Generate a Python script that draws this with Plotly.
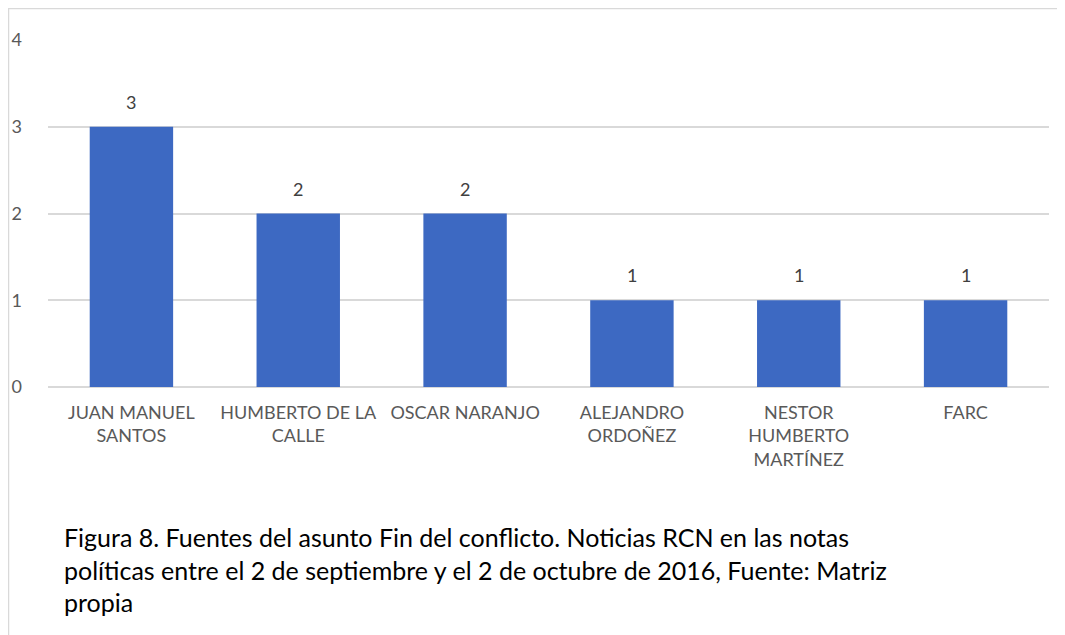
import plotly.graph_objects as go

categories = ["JUAN MANUEL<br>SANTOS", "HUMBERTO DE LA<br>CALLE", "OSCAR NARANJO",
              "ALEJANDRO<br>ORDOÑEZ", "NESTOR<br>HUMBERTO<br>MARTÍNEZ", "FARC"]
values = [3, 2, 2, 1, 1, 1]
y_ticks = [0, 1, 2, 3, 4]
caption = ("Figura 8. Fuentes del asunto Fin del conflicto. Noticias RCN en las notas<br>"
           "políticas entre el 2 de septiembre y el 2 de octubre de 2016, Fuente: Matriz<br>"
           "propia")

# page has an 8px body margin; figure coordinates are offset by it
OFF = 8
W, H = 1065 - OFF, 635 - OFF
L, R, T, B = 48 - OFF, 16, 40 - OFF, 248
pw, ph = W - L - R, H - T - B
FONT = "Lato, Carlito, sans-serif"

fig = go.Figure()
fig.add_trace(go.Bar(
    x=categories, y=values,
    marker=dict(color="#3D69C2", line=dict(width=0)),
    hoverinfo="skip",
))
for c, v in zip(categories, values):
    fig.add_annotation(x=c, y=v, text=str(v), showarrow=False, yshift=25,
                       font=dict(family=FONT, size=18, color="#404040"))

fig.add_annotation(xref="paper", yref="paper", x=(62 - OFF - L) / pw,
                   y=(H - B - (520 - OFF)) / ph,
                   xanchor="left", yanchor="top", align="left", showarrow=False,
                   text=caption,
                   font=dict(family=FONT, size=25, color="#000000"))

# outer frame (top and left edges visible)
fig.add_shape(type="line", xref="paper", yref="paper",
              x0=(0 - L) / pw, x1=(W - L) / pw, y0=(H - B - 0.5) / ph, y1=(H - B - 0.5) / ph,
              line=dict(color="#D9D9D9", width=1.5))
fig.add_shape(type="line", xref="paper", yref="paper",
              x0=(0.5 - L) / pw, x1=(0.5 - L) / pw, y0=(H - B) / ph, y1=(-B) / ph,
              line=dict(color="#D9D9D9", width=1.5))

fig.update_layout(
    width=W, height=H,
    margin=dict(l=L, r=R, t=T, b=B, pad=0, autoexpand=False),
    paper_bgcolor="white", plot_bgcolor="white",
    bargap=0.5, showlegend=False,
    font=dict(family=FONT, size=16, color="#595959"),
)
fig.update_xaxes(showline=False, ticks="", tickfont=dict(size=18, color="#595959"),
                 showgrid=False, tickangle=0, ticklabelstandoff=13, automargin=False)
fig.update_yaxes(range=[0, 4], tickvals=y_ticks, showgrid=True, gridcolor="#D9D9D9",
                 gridwidth=1.5, zeroline=True, zerolinecolor="#D9D9D9", zerolinewidth=1.5,
                 tickfont=dict(size=18, color="#595959"), ticks="", ticklabelstandoff=25,
                 automargin=False)

fig.write_html("out.html")
